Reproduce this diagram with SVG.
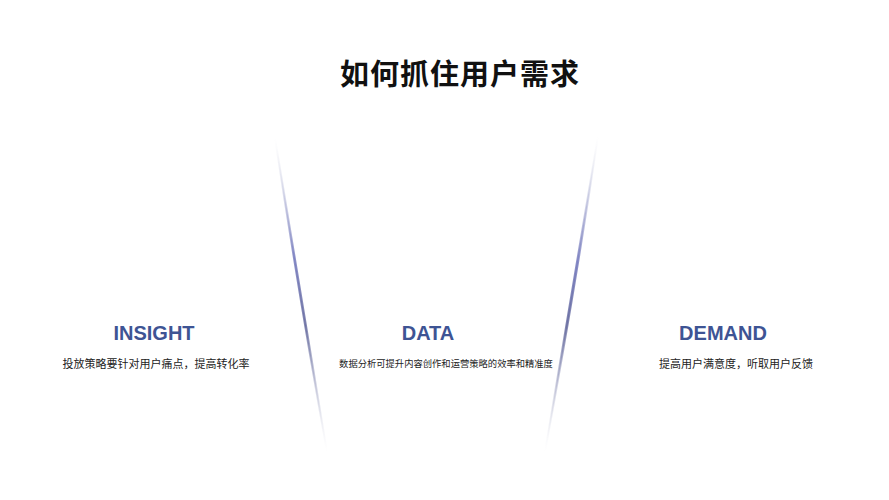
<svg xmlns="http://www.w3.org/2000/svg" width="889" height="500" viewBox="0 0 889 500">
<defs>
<linearGradient id="gL" x1="275" y1="138" x2="327" y2="452" gradientUnits="userSpaceOnUse">
<stop offset="0" stop-color="#d0d2e0" stop-opacity="0"/>
<stop offset="0.38" stop-color="#7a7fc0" stop-opacity="0.85"/>
<stop offset="0.6" stop-color="#656a9e" stop-opacity="0.8"/>
<stop offset="1" stop-color="#d0d2e0" stop-opacity="0"/>
</linearGradient>
<linearGradient id="gR" x1="598" y1="136" x2="545" y2="452" gradientUnits="userSpaceOnUse">
<stop offset="0" stop-color="#d0d2e0" stop-opacity="0"/>
<stop offset="0.4" stop-color="#7a7fc0" stop-opacity="0.85"/>
<stop offset="0.6" stop-color="#656a9e" stop-opacity="0.8"/>
<stop offset="1" stop-color="#d0d2e0" stop-opacity="0"/>
</linearGradient>
<style>
.t{font-family:"Liberation Sans","Noto Sans CJK SC",sans-serif;text-anchor:middle}
.title{font-size:29px;font-weight:bold;fill:#111;letter-spacing:1px}
.head{font-size:20px;font-weight:bold;fill:#3e5494}
.sub{font-size:11px;fill:#222}
</style>
</defs>
<rect width="889" height="500" fill="#fff"/>
<text class="t title" x="460" y="85">如何抓住用户需求</text>
<g id="connectors">
<path d="M275,138 Q298,290 327,452 Q300,290 275,138Z" fill="url(#gL)" stroke="url(#gL)" stroke-width="1.8"/>
<path d="M598,136 Q575,290 545,452 Q572,290 598,136Z" fill="url(#gR)" stroke="url(#gR)" stroke-width="1.8"/>
</g>
<g id="insight">
<text class="t head" x="154" y="340">INSIGHT</text>
<text class="t sub" x="156" y="368">投放策略要针对用户痛点，提高转化率</text>
</g>
<g id="data">
<text class="t head" x="428" y="340">DATA</text>
<text class="t sub" x="446" y="367" style="font-size:9.3px">数据分析可提升内容创作和运营策略的效率和精准度</text>
</g>
<g id="demand">
<text class="t head" x="723" y="340">DEMAND</text>
<text class="t sub" x="736" y="368">提高用户满意度，听取用户反馈</text>
</g>
</svg>
